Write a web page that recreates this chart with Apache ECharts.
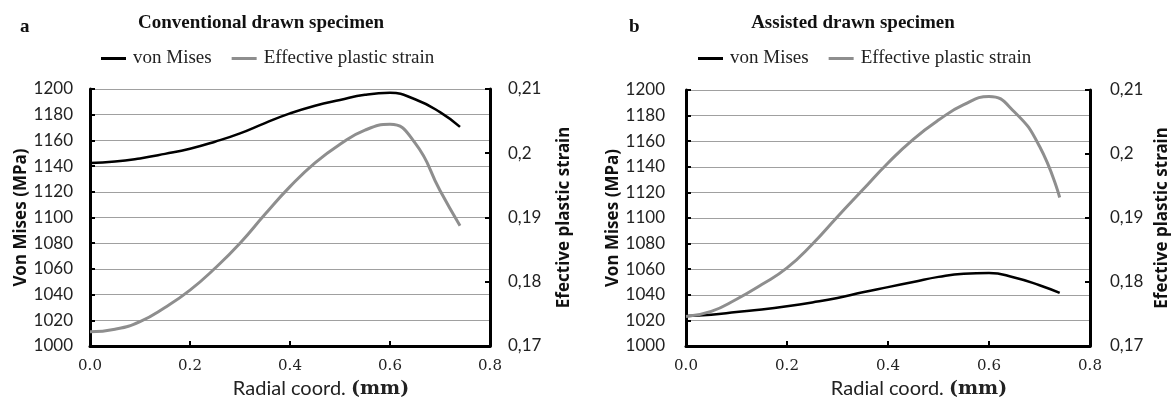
<!DOCTYPE html>
<html>
<head>
<meta charset="utf-8">
<script src="https://cdn.jsdelivr.net/npm/echarts@6/dist/echarts.min.js"></script>
<style>
html,body{margin:0;padding:0;background:#fff;}
#chart{width:1174px;height:405px;}
</style>
</head>
<body>
<div id="chart"></div>
<script>
// ---- data ----
const radialCoord = [0, 0.05, 0.1, 0.15, 0.2, 0.25, 0.3, 0.35, 0.4, 0.45, 0.5, 0.55, 0.6, 0.65, 0.7, 0.74];
const convVonMises = [1142.5, 1143.5, 1146, 1149.5, 1153.5, 1159, 1165.5, 1173.5, 1181, 1187, 1191.5, 1195.5, 1197, 1192, 1182, 1170.5];
const convStrain = [0.1722, 0.1726, 0.1738, 0.176, 0.1787, 0.1821, 0.186, 0.1905, 0.1948, 0.1985, 0.2014, 0.2036, 0.2045, 0.2016, 0.1942, 0.1887];
const assistVonMises = [1023.5, 1024.5, 1026.5, 1028.5, 1031, 1034, 1037.5, 1042, 1046, 1050, 1054, 1056.5, 1057, 1053.5, 1047.5, 1041.5];
const assistStrain = [0.1746, 0.1754, 0.1773, 0.1796, 0.1822, 0.1859, 0.1902, 0.1944, 0.1986, 0.2023, 0.2053, 0.2077, 0.209, 0.2066, 0.2012, 0.1932];
const panelTitles = ['Conventional drawn specimen', 'Assisted drawn specimen'];
const panelLetters = ['a', 'b'];
const seriesNames = ['von Mises', 'Effective plastic strain'];
const xAxisName = ['Radial coord. ', '(mm)'];
const yLeftName = 'Von Mises (MPa)';
const yRightName = 'Efective plastic strain';

const pairs = (xs, ys) => xs.map((x, i) => [x, ys[i]]);

const grids = [
  {left: 90, top: 89, width: 400, height: 257},
  {left: 686, top: 90, width: 404, height: 256}
];
const BLACK = '#000000', GRAY = '#8e8e8e';
const NAME_FONT = {fontFamily: 'Noto Sans', fontWeight: 'bold', fontSize: 17, color: '#111'};

function xAxis(gi) {
  return {
    type: 'value', gridIndex: gi, min: 0, max: 0.8, interval: 0.2,
    axisLine: {show: true, lineStyle: {color: '#000', width: 3}},
    axisTick: {show: true, inside: true, length: 5, lineStyle: {color: '#000', width: 2}},
    splitLine: {show: false},
    axisLabel: {formatter: v => v.toFixed(1), fontFamily: 'DejaVu Serif', fontSize: 15, color: '#222', margin: 13},
    name: '{a|' + xAxisName[0] + '}{b|' + xAxisName[1] + '}',
    nameLocation: 'middle', nameGap: 27,
    nameTextStyle: {
      padding: [0, 0, 0, 62],
      rich: {
        a: {fontFamily: 'Lato', fontSize: 20, color: '#222'},
        b: {fontFamily: 'DejaVu Serif', fontWeight: 'bold', fontSize: 19, color: '#222'}
      }
    }
  };
}
function yLeft(gi, lm) {
  return {
    type: 'value', gridIndex: gi, position: 'left', min: 1000, max: 1200, interval: 20,
    axisLine: {show: true, lineStyle: {color: '#000', width: 3}},
    axisTick: {show: true, inside: true, length: 5, lineStyle: {color: '#000', width: 2}},
    splitLine: {show: true, lineStyle: {color: '#a0a0a0', width: 1}},
    axisLabel: {formatter: v => String(v), fontFamily: 'Lato', fontSize: 17, color: '#222', margin: lm},
    name: yLeftName, nameLocation: 'middle', nameGap: 60, nameRotate: 90,
    nameTextStyle: NAME_FONT
  };
}
function yRight(gi, lm, ng) {
  return {
    type: 'value', gridIndex: gi, position: 'right', min: 0.17, max: 0.21, interval: 0.01,
    axisLine: {show: true, lineStyle: {color: '#000', width: 3}},
    axisTick: {show: true, inside: true, length: 5, lineStyle: {color: '#000', width: 2}},
    splitLine: {show: false},
    axisLabel: {formatter: v => String(parseFloat(v.toFixed(2))).replace('.', ','), fontFamily: 'Lato', fontSize: 17, color: '#222', margin: lm},
    name: yRightName, nameLocation: 'middle', nameGap: ng, nameRotate: 90,
    nameTextStyle: NAME_FONT
  };
}
function legend(left) {
  return {
    left: left, top: 44, icon: 'rect', itemWidth: 25, itemHeight: 3, itemGap: 20,
    data: seriesNames,
    textStyle: {fontFamily: 'Liberation Serif', fontSize: 19, color: '#222', padding: [0, 0, 0, 2]}
  };
}
function line(name, xi, yi, data, color, w) {
  return {
    name: name, type: 'line', xAxisIndex: xi, yAxisIndex: yi,
    data: data, smooth: 0.5, showSymbol: false, symbol: 'none',
    lineStyle: {color: color, width: w}, itemStyle: {color: color}
  };
}
const TITLE_FONT = {fontFamily: 'Liberation Serif', fontWeight: 'bold', fontSize: 19, color: '#111'};

const option = {
  backgroundColor: '#fff',
  animation: false,
  title: [
    {text: panelTitles[0], left: 256, textAlign: 'center', top: 9, textStyle: TITLE_FONT},
    {text: panelTitles[1], left: 848, textAlign: 'center', top: 9, textStyle: TITLE_FONT},
    {text: panelLetters[0], left: 15, top: 13, textStyle: TITLE_FONT},
    {text: panelLetters[1], left: 624, top: 13, textStyle: TITLE_FONT}
  ],
  legend: [legend(96), legend(693)],
  grid: grids,
  xAxis: [xAxis(0), xAxis(1)],
  yAxis: [yLeft(0, 17), yRight(0, 18, 66), yLeft(1, 21), yRight(1, 20, 64)],
  series: [
    line(seriesNames[0], 0, 0, pairs(radialCoord, convVonMises), BLACK, 2.5),
    line(seriesNames[1], 0, 1, pairs(radialCoord, convStrain), GRAY, 3),
    line(seriesNames[0], 1, 2, pairs(radialCoord, assistVonMises), BLACK, 2.5),
    line(seriesNames[1], 1, 3, pairs(radialCoord, assistStrain), GRAY, 3)
  ]
};
const chart = echarts.init(document.getElementById('chart'), null, {renderer: 'canvas'});
chart.setOption(option);
</script>
</body>
</html>
